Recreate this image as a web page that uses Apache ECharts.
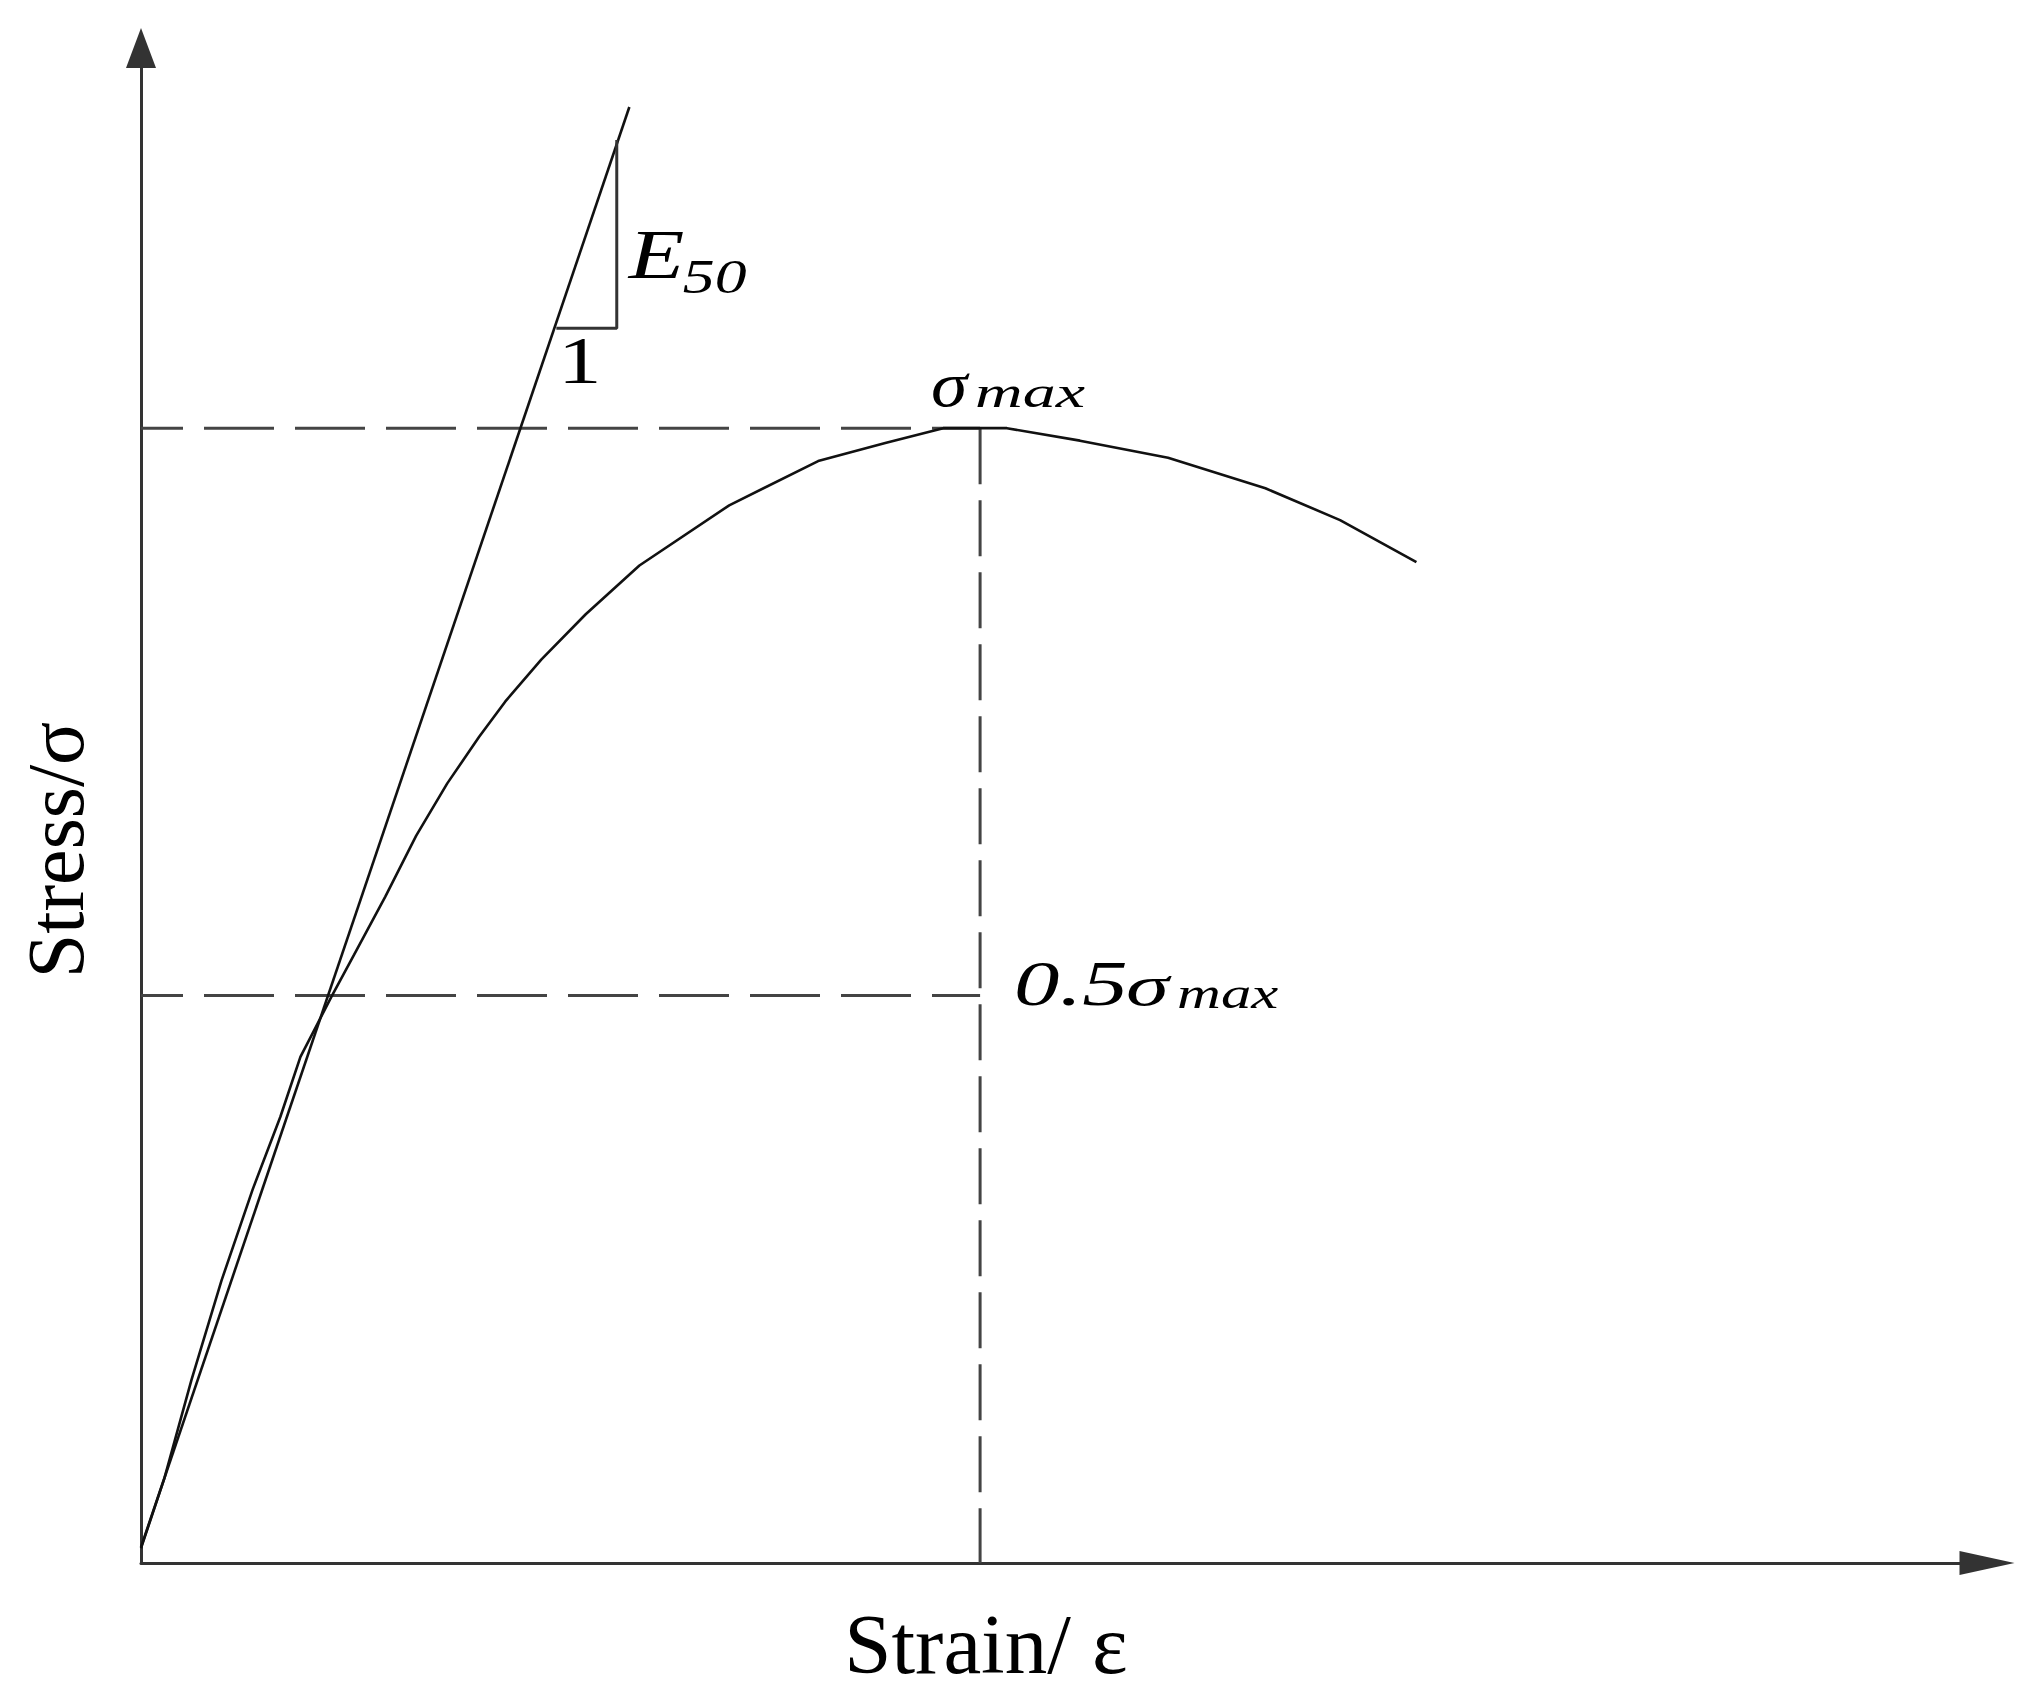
<!DOCTYPE html>
<html>
<head>
<meta charset="utf-8">
<script src="https://cdn.jsdelivr.net/npm/echarts@6/dist/echarts.min.js"></script>
<style>html,body{margin:0;padding:0;background:#fff}#c{width:2042px;height:1690px}</style>
</head>
<body>
<div id="c"></div>
<script>
// Stress-strain curve (strain normalised by peak strain, stress by sigma_max)
const strain = [0, 0.028, 0.060, 0.096, 0.133, 0.166, 0.190, 0.227, 0.254, 0.291, 0.328, 0.365, 0.403, 0.434, 0.477, 0.530, 0.594, 0.701, 0.807, 0.887, 0.956, 1.000, 1.032, 1.119, 1.224, 1.340, 1.429, 1.520];
const stress = [0.013, 0.075, 0.161, 0.249, 0.329, 0.393, 0.446, 0.499, 0.536, 0.587, 0.641, 0.687, 0.728, 0.759, 0.796, 0.836, 0.879, 0.932, 0.971, 0.987, 1.000, 1.000, 1.000, 0.989, 0.974, 0.947, 0.919, 0.882];
// E50 secant line
const secantStrain = [0, 0.582];
const secantStress = [0.014, 1.283];
// slope triangle
const slopeStrain = [0.495, 0.567, 0.567];
const slopeStress = [1.088, 1.088, 1.254];
// reference levels
const peakStrain = 1.0;
const peakStress = 1.0;
const halfStress = 0.5;
const axisMax = { x: 2.2, y: 1.335 };

const zip = (a, b) => a.map((v, i) => [v, b[i]]);

const chart = echarts.init(document.getElementById('c'), null, { renderer: 'svg' });

const dashH = { type: [70, 21], dashOffset: 28, width: 3, color: '#444' };
const dashV = { type: [56, 16], dashOffset: 0, width: 3, color: '#444' };

chart.setOption({
  animation: false,
  backgroundColor: '#fff',
  grid: { left: 141, right: 55, top: 48, bottom: 127, containLabel: false, outerBoundsMode: 'none' },
  xAxis: {
    type: 'value', min: 0, max: axisMax.x,
    axisLine: { show: true, onZero: false, symbol: ['none', 'triangle'], symbolSize: [24, 55], lineStyle: { color: '#333', width: 3 } },
    axisTick: { show: false }, axisLabel: { show: false }, splitLine: { show: false },
    name: 'Strain/ ε', nameLocation: 'middle', nameGap: 38,
    nameTextStyle: { fontFamily: 'Liberation Serif', fontSize: 85, color: '#000', padding: [0, 156, 0, 0] }
  },
  yAxis: {
    type: 'value', min: 0, max: axisMax.y,
    axisLine: { show: true, onZero: false, symbol: ['none', 'triangle'], symbolSize: [30, 40], lineStyle: { color: '#333', width: 3 } },
    axisTick: { show: false }, axisLabel: { show: false }, splitLine: { show: false },
    name: 'Stress/σ', nameLocation: 'middle', nameGap: 45,
    nameTextStyle: { fontFamily: 'Liberation Serif', fontSize: 80, color: '#000', padding: [0, 89, 0, 0] }
  },
  series: [
    { type: 'line', name: 'peak level', data: [[0, peakStress], [peakStrain, peakStress]], symbol: 'none', lineStyle: dashH, z: 2 },
    { type: 'line', name: 'half level', data: [[0, halfStress], [peakStrain, halfStress]], symbol: 'none', lineStyle: dashH, z: 2 },
    { type: 'line', name: 'peak strain', data: [[peakStrain, peakStress], [peakStrain, 0]], symbol: 'none', lineStyle: dashV, z: 2 },
    { type: 'line', name: 'curve', data: zip(strain, stress), symbol: 'none', lineStyle: { color: '#111', width: 2.6 }, z: 3 },
    { type: 'line', name: 'E50', data: zip(secantStrain, secantStress), symbol: 'none', lineStyle: { color: '#111', width: 2.6 }, z: 3 },
    { type: 'line', name: 'slope', data: zip(slopeStrain, slopeStress), symbol: 'none', lineStyle: { color: '#333', width: 3 }, z: 3 }
  ]
});

// annotation texts: anchored to data points, offsets in px (left / baseline)
const corner = [slopeStrain[1], slopeStress[1]];
const labels = [
  { text: 'E', at: corner, dx: 12, dy: -50, size: 70, italic: true, sx: 1.3 },
  { text: '50', at: corner, dx: 66, dy: -35, size: 48, italic: true, sx: 1.33 },
  { text: '1', at: corner, dx: -37, dy: 55, size: 67, italic: false, sx: 1.3, align: 'center' },
  { text: 'σ', at: [peakStrain, peakStress], dx: -49, dy: -22, size: 64, italic: true, sx: 1.15 },
  { text: 'max', at: [peakStrain, peakStress], dx: -5, dy: -21, size: 44, italic: true, sx: 1.5 },
  { text: '0.5', at: [peakStrain, halfStress], dx: 34, dy: 10, size: 64, italic: true, sx: 1.42 },
  { text: 'σ', at: [peakStrain, halfStress], dx: 146, dy: 10, size: 58, italic: true, sx: 1.5 },
  { text: 'max', at: [peakStrain, halfStress], dx: 197, dy: 12, size: 44, italic: true, sx: 1.38 }
];

const graphic = labels.map(l => {
  const p = chart.convertToPixel({ gridIndex: 0 }, l.at);
  return {
    type: 'text',
    x: p[0] + l.dx,
    y: p[1] + l.dy - 0.34 * l.size,
    scaleX: l.sx,
    silent: true,
    style: {
      text: l.text,
      fontFamily: 'Liberation Serif',
      fontSize: l.size,
      fontStyle: l.italic ? 'italic' : 'normal',
      fill: '#000',
      align: l.align || 'left',
      verticalAlign: 'middle'
    }
  };
});
chart.setOption({ graphic: graphic });
</script>
</body>
</html>
